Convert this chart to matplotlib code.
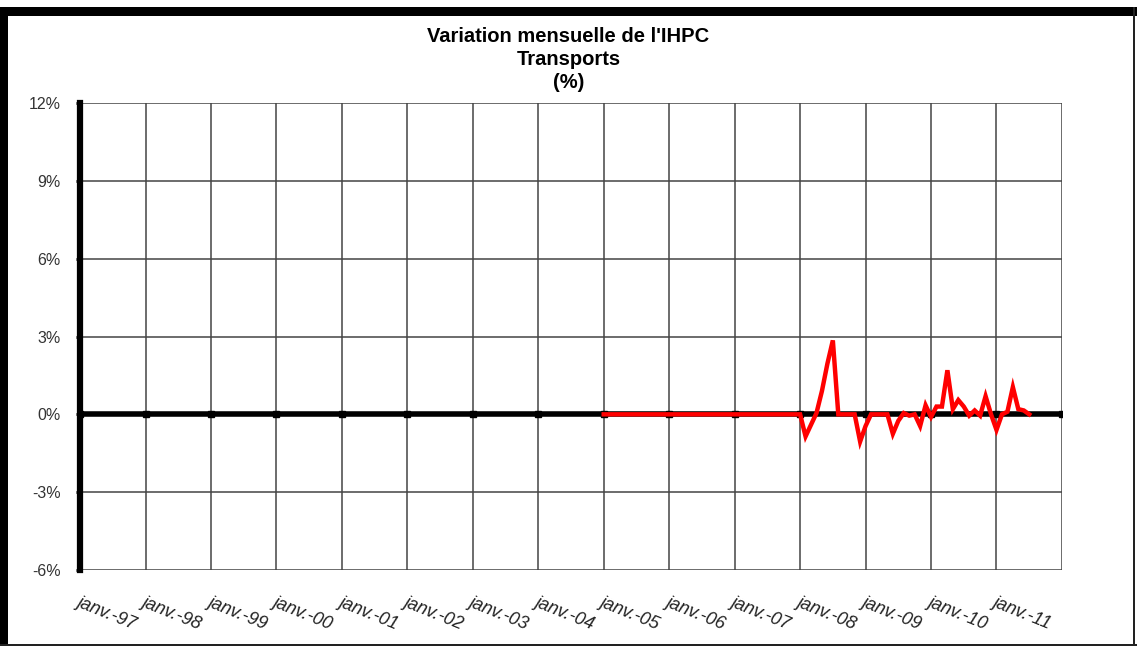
import matplotlib.pyplot as plt
import matplotlib.patches as patches
import numpy as np

# monthly change of the transport HICP (%), Jan 2005 -> Jul 2011
start_year = 2005
flat_0507 = [0.0] * 36
var_2008 = [0.0, -0.85, -0.4, 0.05, 0.9, 1.95, 2.85, 0.0, 0.0, 0.0, 0.0, -1.05]
var_2009 = [-0.45, 0.0, 0.0, 0.0, 0.0, -0.75, -0.25, 0.05, -0.05, 0.0, -0.45, 0.35]
var_2010 = [-0.1, 0.3, 0.3, 1.7, 0.2, 0.55, 0.3, -0.05, 0.15, -0.05, 0.7, 0.0]
var_2011 = [-0.6, 0.0, 0.1, 1.05, 0.2, 0.15, 0.0]

years = list(range(1997, 2012))
year_labels = [f"janv.-{y % 100:02d}" for y in years]
y_ticks = [-6, -3, 0, 3, 6, 9, 12]

values = np.array(flat_0507 + var_2008 + var_2009 + var_2010 + var_2011)
x = start_year + np.arange(len(values)) / 12.0

plt.rcParams['font.family'] = ['Liberation Sans', 'DejaVu Sans']

fig = plt.figure(figsize=(11.37, 6.46), dpi=100)
ax = fig.add_axes([0.0704, 0.1176, 0.8636, 0.723])

# outer frame: heavy top/left, thin right/bottom
fig.patches.append(patches.Rectangle((0, 0.9752), 1, 0.0140, transform=fig.transFigure,
                                     facecolor='black', edgecolor='none'))
fig.patches.append(patches.Rectangle((0, 0), 0.007, 0.989, transform=fig.transFigure,
                                     facecolor='black', edgecolor='none'))
fig.patches.append(patches.Rectangle((0.9965, 0), 0.002, 0.989, transform=fig.transFigure,
                                     facecolor='#222222', edgecolor='none'))
fig.patches.append(patches.Rectangle((0, 0.0005), 1, 0.003, transform=fig.transFigure,
                                     facecolor='#222222', edgecolor='none'))

ax.set_xlim(1997, 2012)
ax.set_ylim(-6, 12)

# grid
for yr in years[1:] + [2012]:
    ax.axvline(yr, color='#444444', lw=1.1, zorder=1)
for yt in y_ticks:
    ax.axhline(yt, color='#444444', lw=1.1, zorder=1)

# zero axis with tick marks
ax.axhline(0, color='black', lw=4, zorder=2)
ax.plot(years + [2012], [0] * (len(years) + 1), 's', color='black', ms=5, zorder=2)

ax.plot(x, values, color='#ff0000', lw=3.2, zorder=3, solid_joinstyle='miter')

for sp in ['top', 'right', 'bottom']:
    ax.spines[sp].set_visible(False)
ax.spines['left'].set_linewidth(4.5)
ax.spines['left'].set_color('black')

ax.set_yticks(y_ticks)
ax.set_yticklabels([f"{v}%" for v in y_ticks], fontsize=11.5, color='#333333')
ax.tick_params(axis='y', direction='out', length=3, width=2, pad=11, color='black')

ax.set_xticks(years)
ax.set_xticklabels(year_labels, fontsize=13, style='italic', color='#222222',
                   rotation=-22, ha='left', va='top', rotation_mode='anchor')
ax.tick_params(axis='x', length=0, pad=17)

fig.text(0.5, 0.943, "Variation mensuelle de l'IHPC", ha='center', va='center',
         fontsize=14.5, fontweight='bold')
fig.text(0.5, 0.908, "Transports", ha='center', va='center', fontsize=14.5, fontweight='bold')
fig.text(0.5, 0.872, "(%)", ha='center', va='center', fontsize=14.5, fontweight='bold')

fig.savefig('out.png', dpi=100)
